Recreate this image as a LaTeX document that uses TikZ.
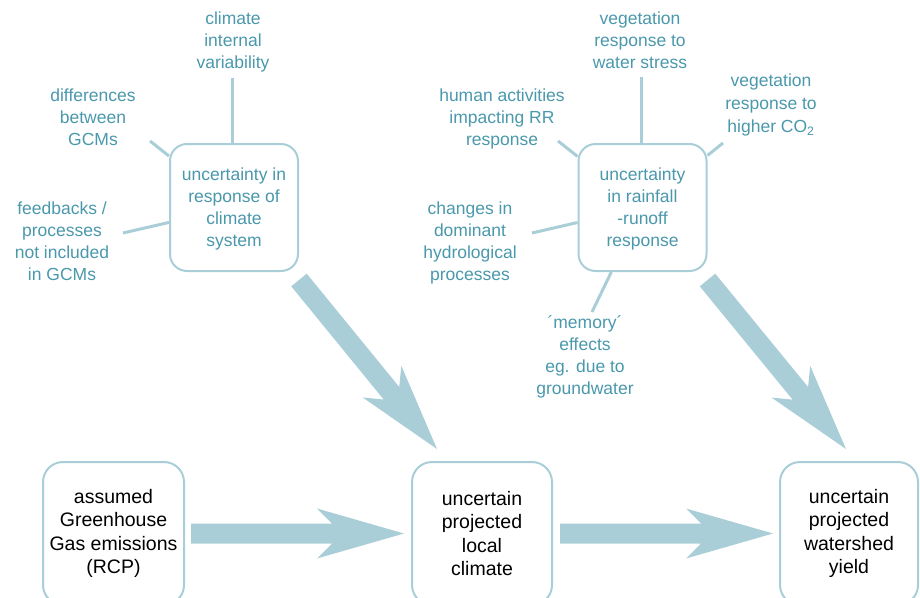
\documentclass[tikz,border=0pt]{standalone}
\usepackage{fontspec}
\setmainfont{Liberation Sans}
\usetikzlibrary{calc}
\definecolor{txtblue}{RGB}{74,152,172}
\definecolor{lineblue}{RGB}{170,206,215}
\definecolor{arrowblue}{RGB}{170,206,215}
\tikzset{
  bluetext/.style={text=txtblue, align=center, inner sep=0pt, font=\fontsize{17.5}{22}\selectfont},
  topbox/.style={draw=lineblue, line width=2pt, rounded corners=17pt, fill=white,
    minimum width=128pt, minimum height=127pt, text=txtblue, align=center, inner sep=0pt,
    font=\fontsize{17.5}{22}\selectfont},
  botbox/.style={draw=lineblue, line width=2pt, rounded corners=20pt, fill=white,
    minimum height=143pt, text=black, align=center, inner sep=0pt,
    font=\fontsize{19.5}{23.5}\selectfont},
  conn/.style={draw=lineblue, line width=3pt},
}
\newcommand\drawfatarrow[2]{%
  \fill[arrowblue] ($(#1)!10pt!90:(#2)$) -- ($(#2)!72pt!(#1)!10pt!-90:(#1)$)
    -- ($(#2)!87pt!(#1)!25pt!-90:(#1)$) -- (#2)
    -- ($(#2)!87pt!(#1)!25pt!90:(#1)$) -- ($(#2)!72pt!(#1)!10pt!90:(#1)$)
    -- ($(#1)!10pt!-90:(#2)$) -- cycle;}
\newcommand\tallfirst{\rule{0pt}{16.5pt}}
\begin{document}
\begin{tikzpicture}[x=1pt,y=-1pt]
\useasboundingbox (0,0) rectangle (920,597);
\begin{scope}
\clip (0,0) rectangle (920,597);
% left cluster
\node[bluetext] (t1) at (233,42) {climate\\internal\\variability};
\node[bluetext] (t2) at (93,117) {differences\\between\\GCMs};
\node[bluetext] (t3) at (62,241) {feedbacks /\\processes\\not included\\in GCMs};
% right cluster
\node[bluetext] (t4) at (640,40) {vegetation\\response to\\water stress};
\node[bluetext] (t5) at (502,119) {human activities\\impacting RR\\response};
\node[bluetext, font=\fontsize{17.5}{23}\selectfont] (t6) at (771,105) {vegetation\\response to\\higher CO\textsubscript{2}};
\node[bluetext] (t7) at (470,243) {changes in\\dominant\\hydrological\\processes};
\node[bluetext] (t8) at (585,357) {´memory´\\effects\\eg. due to\\groundwater};
% boxes
\node[topbox] (u1) at (234,207.5) {\tallfirst uncertainty in\\response of\\climate\\system};
\node[topbox] (u2) at (642.5,207.5) {\tallfirst uncertainty\\in rainfall\\-runoff\\response};
% connectors
\coordinate (c1) at (232,78);
\coordinate (c2) at (150,141);
\coordinate (c3) at (123,233);
\coordinate (c4) at (641,77);
\coordinate (c5) at (558,141);
\coordinate (c6) at (723,143);
\coordinate (c7) at (532,233);
\coordinate (c8) at (592,312);
\draw[conn] (c1) -- (c1 |- u1.north);
\draw[conn] (c2) -- (u1);
\draw[conn] (c3) -- (u1);
\draw[conn] (c4) -- (c4 |- u2.north);
\draw[conn] (c5) -- (u2);
\draw[conn] (c6) -- (u2);
\draw[conn] (c7) -- (u2);
\draw[conn] (c8) -- (u2);
% bottom row
\node[botbox, minimum width=141pt] (b1) at (113.5,533.5) {assumed\\Greenhouse\\Gas emissions\\(RCP)};
\node[botbox, minimum width=140pt] (b2) at (482,533.5) {uncertain\\projected\\local\\climate};
\node[botbox, minimum width=138pt] (b3) at (849,533.5) {uncertain\\projected\\watershed\\yield};
% fat arrows
\coordinate (a1s) at ($(b1.east)+(6,0)$);
\coordinate (a1t) at ($(b2.west)+(-7,0)$);
\coordinate (a2s) at ($(b2.east)+(7,0)$);
\coordinate (a2t) at ($(b3.west)+(-6,0)$);
\coordinate (d1s) at (299,280);
\coordinate (d1t) at (437,449);
\coordinate (d2s) at (707.5,280);
\coordinate (d2t) at (846,449);
\drawfatarrow{a1s}{a1t}
\drawfatarrow{a2s}{a2t}
\drawfatarrow{d1s}{d1t}
\drawfatarrow{d2s}{d2t}
\end{scope}
\end{tikzpicture}
\end{document}
